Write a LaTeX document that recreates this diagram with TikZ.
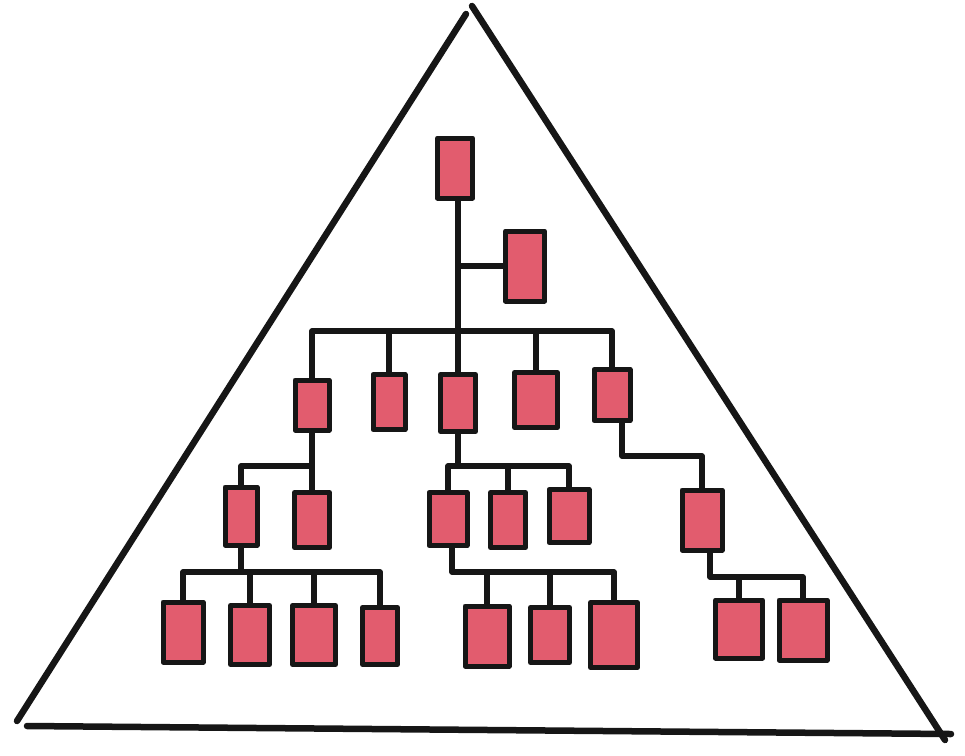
\documentclass[tikz,border=0pt]{standalone}
\definecolor{boxpink}{RGB}{226,92,110}
\definecolor{ink}{RGB}{22,22,22}
\begin{document}
\begin{tikzpicture}[x=1pt,y=-1pt,
  box/.style={draw=ink,fill=boxpink,line width=5pt,inner sep=0pt,rectangle,line join=round},
  link/.style={draw=ink,line width=5.5pt,line join=round,line cap=round},
  edge/.style={draw=ink,line width=6.5pt,line cap=round}]
\useasboundingbox (0,0) rectangle (965,755);
% triangle
\coordinate (apex) at (472,6);
\coordinate (apexL) at (466,14);
\coordinate (bl) at (17,721);
\coordinate (blB) at (27,726);
\coordinate (br) at (945,740);
\coordinate (brB) at (951,734);
\draw[edge] (apexL) -- (bl);
\draw[edge] (apex) -- (br);
\draw[edge] (blB) -- (brB);
% bus levels
\coordinate (b1) at (0,331);
\coordinate (b2) at (0,466);
\coordinate (bE) at (0,456);
\coordinate (b3) at (0,572);
\coordinate (bK) at (0,577);
% boxes
\newcommand{\bx}[5]{\node[box,minimum width=#4pt-5pt,minimum height=#5pt-5pt] (#1) at (#2,#3) {};}
\bx{root}{455}{168}{40}{65}
\bx{sec}{525}{266}{44}{75}
\bx{A}{312}{405}{39}{55}
\bx{B}{389}{402}{37}{60}
\bx{C}{458}{403}{40}{62}
\bx{D}{536}{400}{48}{60}
\bx{E}{612}{395}{41}{56}
\bx{F}{241}{516}{37}{63}
\bx{G}{312}{520}{40}{60}
\bx{H}{448}{519}{43}{58}
\bx{I}{508}{520}{40}{60}
\bx{J}{569}{516}{45}{58}
\bx{K}{702}{520}{45}{65}
\bx{L}{183}{632}{45}{65}
\bx{M}{250}{635}{44}{64}
\bx{N}{314}{635}{48}{64}
\bx{O}{380}{636}{40}{62}
\bx{P}{487}{636}{49}{65}
\bx{Q}{550}{635}{44}{60}
\bx{R}{614}{635}{52}{70}
\bx{S}{739}{629}{52}{63}
\bx{T}{803}{630}{53}{65}
% connectors
\draw[link] ([xshift=3pt]root.south) -- ([xshift=3pt]root.south |- b1);
\draw[link] ([xshift=3pt]root.south |- sec.west) -- (sec.west);
\draw[link] (A.north) |- (E.north |- b1) -- (E.north);
\draw[link] (B.north) -- (B.north |- b1);
\draw[link] (C.north) -- (C.north |- b1);
\draw[link] (D.north) -- (D.north |- b1);
\draw[link] (A.south) -- (A.south |- b2);
\draw[link] (F.north) |- (G.north |- b2) -- (G.north);
\draw[link] (C.south) -- (C.south |- b2);
\draw[link] (H.north) |- (J.north |- b2) -- (J.north);
\draw[link] (I.north) -- (I.north |- b2);
\draw[link] ([xshift=10pt]E.south) |- (K.north |- bE) -- (K.north);
\draw[link] (F.south) -- (F.south |- b3);
\draw[link] (L.north) |- (O.north |- b3) -- (O.north);
\draw[link] (M.north) -- (M.north |- b3);
\draw[link] (N.north) -- (N.north |- b3);
\draw[link] ([xshift=4pt]H.south) |- (R.north |- b3) -- (R.north);
\draw[link] (P.north) -- (P.north |- b3);
\draw[link] (Q.north) -- (Q.north |- b3);
\draw[link] ([xshift=8pt]K.south) |- (T.north |- bK) -- (T.north);
\draw[link] (S.north) -- (S.north |- bK);
\end{tikzpicture}
\end{document}
